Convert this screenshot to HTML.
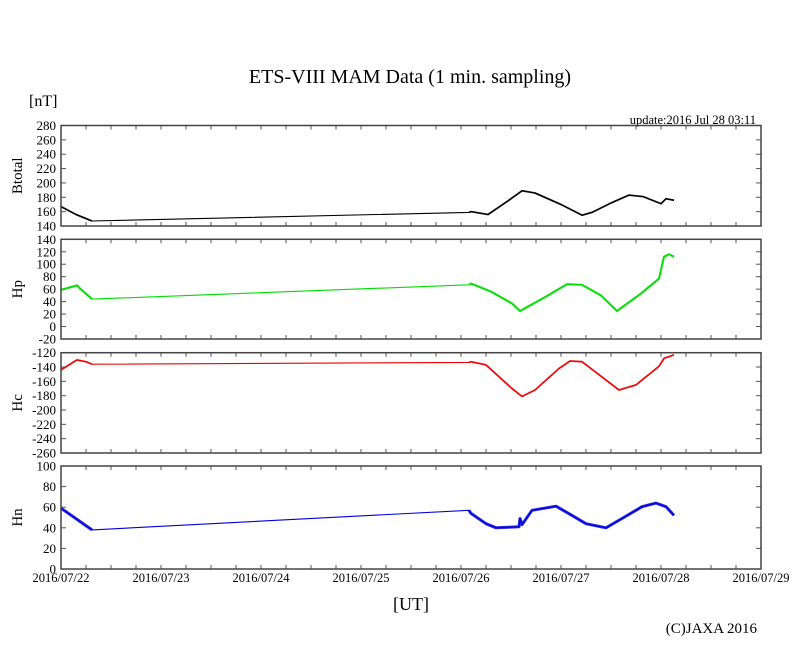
<!DOCTYPE html>
<html><head><meta charset="utf-8"><style>
body{margin:0;background:#fff;}
svg{display:block;font-family:"Liberation Serif",serif;}
</style></head><body>
<svg id="c" width="810" height="655" viewBox="0 0 810 655">
<text x="410" y="83" text-anchor="middle" font-size="20">ETS-VIII MAM Data (1 min. sampling)</text>
<text x="29" y="106" font-size="16">[nT]</text>
<text x="756" y="124" text-anchor="end" font-size="12.5">update:2016 Jul 28 03:11</text>
<text x="411" y="610" text-anchor="middle" font-size="18">[UT]</text>
<text x="757" y="633" text-anchor="end" font-size="15">(C)JAXA 2016</text>
</svg>
<script>
const xTickLabels=["2016/07/22","2016/07/23","2016/07/24","2016/07/25","2016/07/26","2016/07/27","2016/07/28","2016/07/29"];
const panelNames=["Btotal","Hp","Hc","Hn"];
const panelMin=[140,-20,-260,0];
const panelMax=[280,140,-120,100];
const panelStep=[20,20,20,20];
const panelColors=["#000000","#00dd00","#ee0000","#0000dd"];
const bT=[0,0.15,0.31,4.08,4.1,4.27,4.45,4.61,4.74,5.0,5.21,5.31,5.5,5.68,5.82,6.0,6.05,6.13];
const bV=[167,156,147,159,160,156,173,189,186,170,155,159,172,183,181,171,178,176];
const pT=[0,0.16,0.19,0.31,4.08,4.1,4.3,4.51,4.59,4.85,5.06,5.21,5.4,5.56,5.8,5.98,6.03,6.08,6.13];
const pV=[59,66,61,44,67,69,56,37,25,48,68,67,50,25,53,77,112,116,112];
const cT=[0,0.16,0.25,0.31,4.08,4.1,4.25,4.51,4.61,4.74,4.98,5.09,5.21,5.58,5.75,5.98,6.03,6.13];
const cV=[-144,-130,-132.5,-136,-133.5,-132.5,-137,-170,-181,-172,-142,-131.6,-132.5,-172,-165,-139,-128,-123];
const nT=[0,0.31,4.08,4.1,4.25,4.35,4.58,4.59,4.61,4.71,4.95,5.11,5.25,5.45,5.61,5.81,5.95,6.05,6.13];
const nV=[59,38,57,54,44,40,41,49,43,57,61,52,44,40,49,60.5,64,60.5,52];
const seriesT=[bT,pT,cT,nT];
const seriesV=[bV,pV,cV,nV];
const gapStart=[2,3,3,1];
const gapEnd=[3,4,4,2];
const noiseW=[1.8,2.2,1.8,3];

const NS="http://www.w3.org/2000/svg";
const svg=document.getElementById('c');
const X0=61,X1=761,DAYS=7;
const tops=[125.5,239.3,352.7,466];
const bots=[226,339,453,569];
function xs(d){return X0+(X1-X0)*d/DAYS;}
function mk(tag,attrs,parent){const e=document.createElementNS(NS,tag);for(const k in attrs)e.setAttribute(k,attrs[k]);(parent||svg).appendChild(e);return e;}
for(let p=0;p<4;p++){
  const top=tops[p],bot=bots[p];
  const ys=v=>bot-(bot-top)*(v-panelMin[p])/(panelMax[p]-panelMin[p]);
  const g=mk('g',{});
  
  
  const lab=mk('text',{x:0,y:0,'font-size':15,'text-anchor':'middle',transform:`translate(22,${(top+bot)/2}) rotate(-90)`},g);
  lab.textContent=panelNames[p];
  
  
  for(let v=panelMin[p];v<=panelMax[p];v+=panelStep[p]){
    const y=ys(v);
    const t=mk('text',{x:56,y:y+4.5,'font-size':13,'text-anchor':'end'},g);
    t.textContent=v;
    
    
    mk('line',{x1:X0,x2:X0+5,y1:y,y2:y,stroke:'#555'},g);
    mk('line',{x1:X1-5,x2:X1,y1:y,y2:y,stroke:'#555'},g);
  }
  for(let q=0;q<=DAYS*4;q++){
    const x=xs(q/4);
    mk('line',{x1:x,x2:x,y1:top,y2:top+4,stroke:'#555'},g);
    mk('line',{x1:x,x2:x,y1:bot,y2:bot-4,stroke:'#555'},g);
  }
  const T=seriesT[p],V=seriesV[p];
  const pts=T.map((t,i)=>xs(t).toFixed(1)+','+ys(V[i]).toFixed(1));
  const line=mk('polyline',{points:pts.join(' '),fill:'none',stroke:panelColors[p],'stroke-width':1.1},g);
  
  
  const a=mk('polyline',{points:pts.slice(0,gapStart[p]+1).join(' '),fill:'none',stroke:panelColors[p],'stroke-width':noiseW[p],opacity:0.85,'stroke-linejoin':'round'},g);
  
  
  const b=mk('polyline',{points:pts.slice(gapEnd[p]).join(' '),fill:'none',stroke:panelColors[p],'stroke-width':noiseW[p],opacity:0.85,'stroke-linejoin':'round'},g);
  
  
  const fr=mk('rect',{x:X0,y:top,width:X1-X0,height:bot-top,fill:'none',stroke:'#444','stroke-width':1.5},g);
  
  
}
xTickLabels.forEach((s,i)=>{
  const t=mk('text',{x:xs(i),y:582,'font-size':12.5,'text-anchor':'middle'});
  t.textContent=s;
  
  
});
</script>
</body></html>
